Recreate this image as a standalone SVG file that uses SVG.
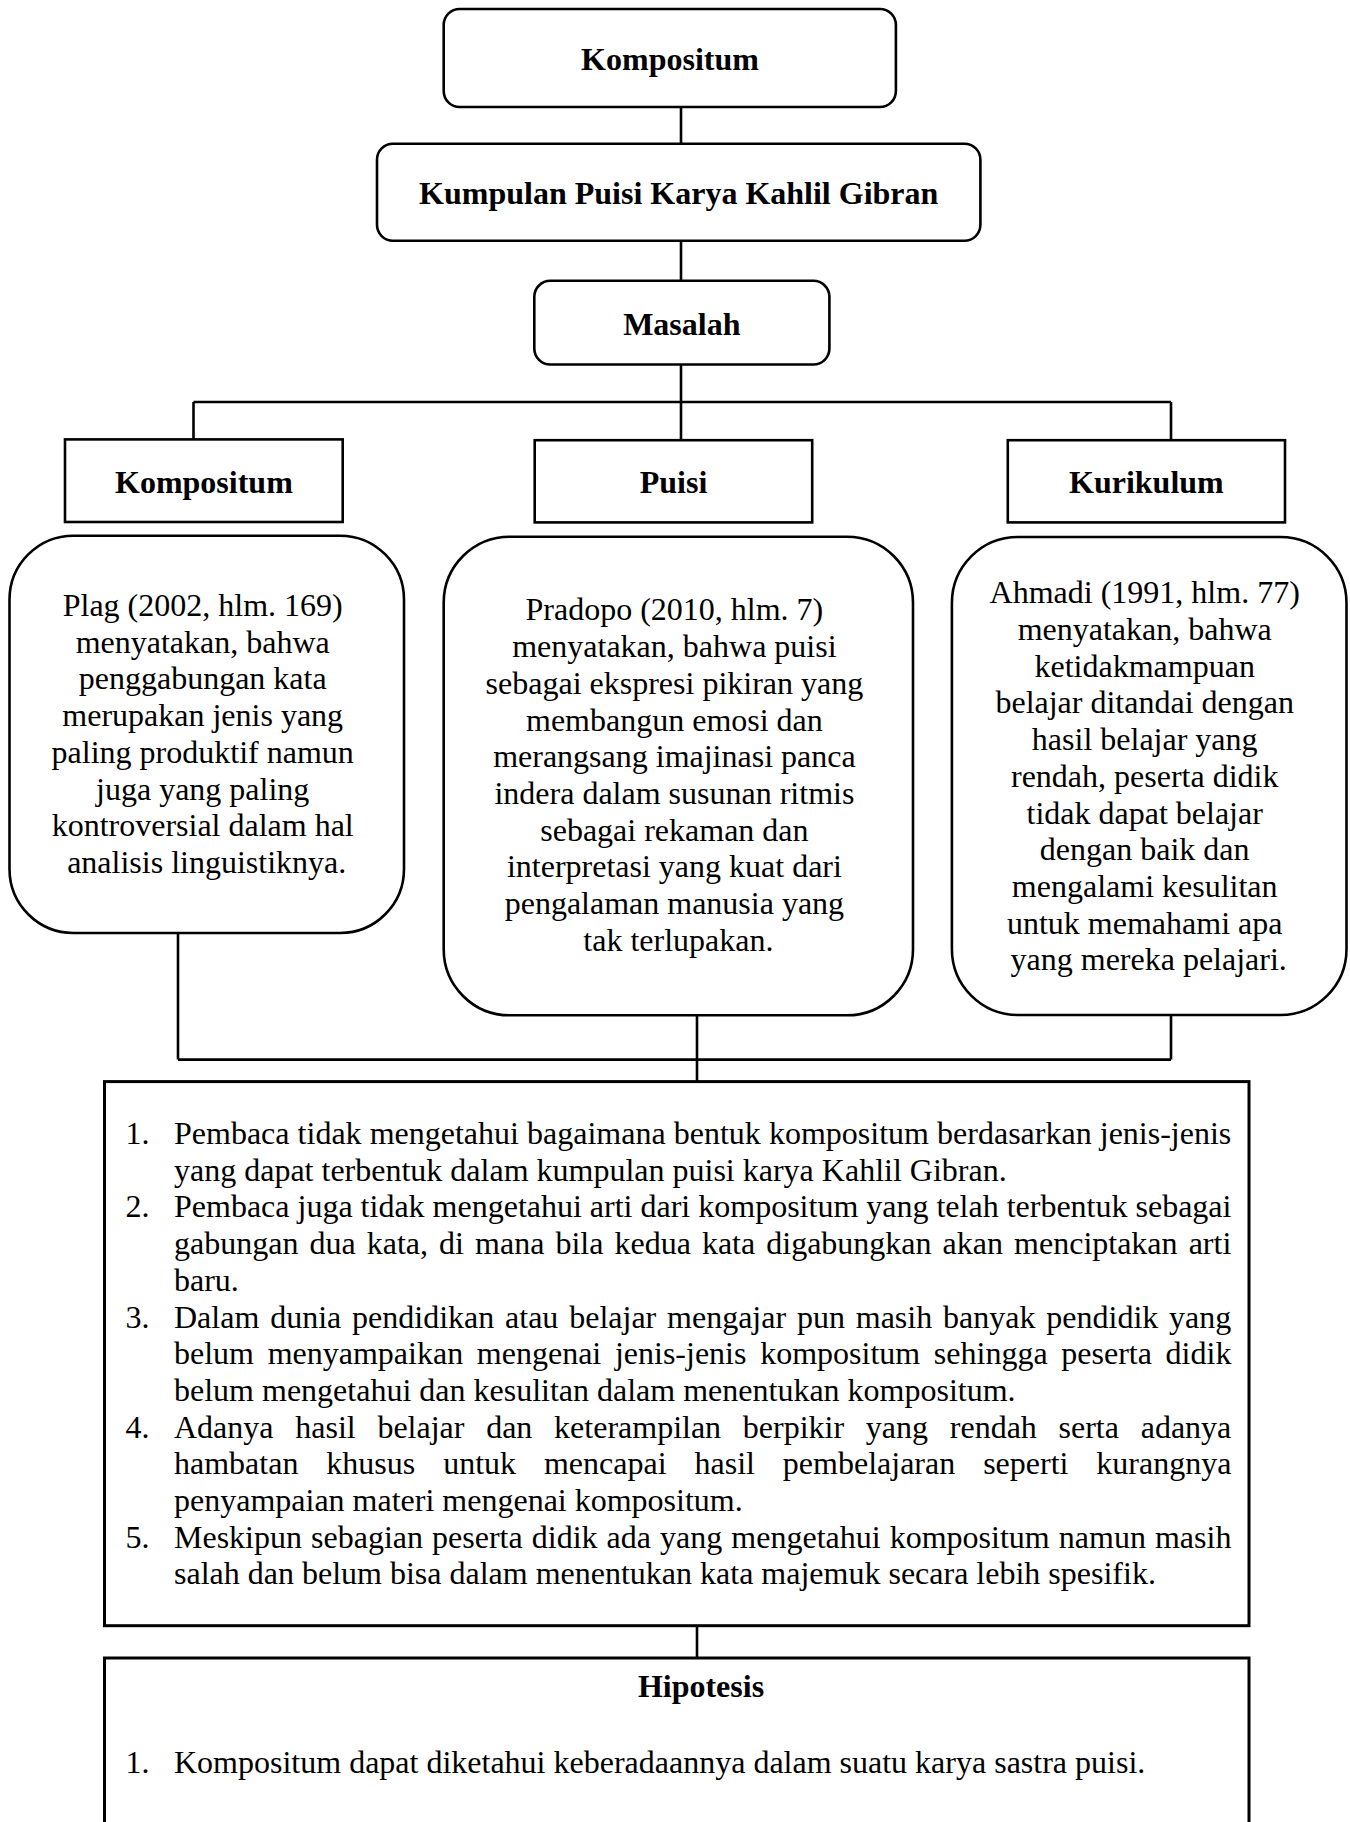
<svg xmlns="http://www.w3.org/2000/svg" width="1350" height="1822" viewBox="0 0 1350 1822">
<style>
.box{fill:#fff;stroke:#000;stroke-width:2.6}
.big{fill:#fff;stroke:#000;stroke-width:3}
.ln{fill:none;stroke:#000;stroke-width:2.6}
text{font-family:"Liberation Serif","Times New Roman",serif;font-size:32px;fill:#000}
.b{font-weight:bold;text-anchor:middle}
.c{text-anchor:middle}
</style>
<rect width="1350" height="1822" fill="#fff"/>
<g id="connectors">
<path class="ln" d="M681 107V144M681 241V281M681 364.5V402M193.5 402H1171M193.5 402V439M681 402V440M1171 402V440"/>
<path class="ln" d="M178 933V1059.6M697 1015V1081.6M1171 1015V1059.6M178 1059.6H1171"/>
<path class="ln" d="M697 1625.7V1658"/>
</g>
<g id="n-kompositum-top">
<rect class="box" x="443.7" y="9" width="452.2" height="98" rx="16"/>
<text class="b" x="670" y="69.5">Kompositum</text>
</g>
<g id="n-kumpulan">
<rect class="box" x="377" y="143.7" width="603.4" height="97.1" rx="16"/>
<text class="b" x="678.7" y="204">Kumpulan Puisi Karya Kahlil Gibran</text>
</g>
<g id="n-masalah">
<rect class="box" x="534.3" y="280.8" width="295.1" height="83.7" rx="16"/>
<text class="b" x="681.8" y="334.5">Masalah</text>
</g>
<g id="n-kompositum">
<rect class="box" x="65" y="439.4" width="277.7" height="82.6"/>
<text class="b" x="203.9" y="492.7">Kompositum</text>
</g>
<g id="n-puisi">
<rect class="box" x="534.7" y="440.2" width="277.5" height="82.2"/>
<text class="b" x="673.5" y="493">Puisi</text>
</g>
<g id="n-kurikulum">
<rect class="box" x="1007.8" y="440.2" width="277.2" height="82.2"/>
<text class="b" x="1146.4" y="493">Kurikulum</text>
</g>
<g id="n-plag">
<rect class="box" x="9.5" y="535.7" width="394.5" height="397.3" rx="64"/>
<text class="c" x="206.7" y="616">
<tspan x="206.7" dy="0">Plag (2002, hlm. 169)</tspan>
<tspan x="206.7" dy="36.7">menyatakan, bahwa</tspan>
<tspan x="206.7" dy="36.7">penggabungan kata</tspan>
<tspan x="206.7" dy="36.7">merupakan jenis yang</tspan>
<tspan x="206.7" dy="36.7">paling produktif namun</tspan>
<tspan x="206.7" dy="36.7">juga yang paling</tspan>
<tspan x="206.7" dy="36.7">kontroversial dalam hal</tspan>
<tspan x="206.7" dy="36.7">analisis linguistiknya.</tspan>
</text>
</g>
<g id="n-pradopo">
<rect class="box" x="443.7" y="536.7" width="469.3" height="478.6" rx="66"/>
<text class="c" x="678.4" y="620.4">
<tspan x="678.4" dy="0">Pradopo (2010, hlm. 7)</tspan>
<tspan x="678.4" dy="36.7">menyatakan, bahwa puisi</tspan>
<tspan x="678.4" dy="36.7">sebagai ekspresi pikiran yang</tspan>
<tspan x="678.4" dy="36.7">membangun emosi dan</tspan>
<tspan x="678.4" dy="36.7">merangsang imajinasi panca</tspan>
<tspan x="678.4" dy="36.7">indera dalam susunan ritmis</tspan>
<tspan x="678.4" dy="36.7">sebagai rekaman dan</tspan>
<tspan x="678.4" dy="36.7">interpretasi yang kuat dari</tspan>
<tspan x="678.4" dy="36.7">pengalaman manusia yang</tspan>
<tspan x="678.4" dy="36.7">tak terlupakan.</tspan>
</text>
</g>
<g id="n-ahmadi">
<rect class="box" x="951.9" y="537" width="394.6" height="478" rx="66"/>
<text class="c" x="1148.7" y="603.3">
<tspan x="1148.7" dy="0">Ahmadi (1991, hlm. 77)</tspan>
<tspan x="1148.7" dy="36.7">menyatakan, bahwa</tspan>
<tspan x="1148.7" dy="36.7">ketidakmampuan</tspan>
<tspan x="1148.7" dy="36.7">belajar ditandai dengan</tspan>
<tspan x="1148.7" dy="36.7">hasil belajar yang</tspan>
<tspan x="1148.7" dy="36.7">rendah, peserta didik</tspan>
<tspan x="1148.7" dy="36.7">tidak dapat belajar</tspan>
<tspan x="1148.7" dy="36.7">dengan baik dan</tspan>
<tspan x="1148.7" dy="36.7">mengalami kesulitan</tspan>
<tspan x="1148.7" dy="36.7">untuk memahami apa</tspan>
<tspan x="1148.7" dy="36.7">yang mereka pelajari.</tspan>
</text>
</g>
<g id="n-masalah-list">
<rect class="big" x="104.5" y="1081.6" width="1144.5" height="544.1"/>
<text x="125.5" y="1144">1.</text>
<text x="125.5" y="1217.4">2.</text>
<text x="125.5" y="1327.5">3.</text>
<text x="125.5" y="1437.6">4.</text>
<text x="125.5" y="1547.7">5.</text>
<text x="174" y="1144" word-spacing="0.1">Pembaca tidak mengetahui bagaimana bentuk kompositum berdasarkan jenis-jenis</text>
<text x="174" y="1180.7">yang dapat terbentuk dalam kumpulan puisi karya Kahlil Gibran.</text>
<text x="174" y="1217.4">Pembaca juga tidak mengetahui arti dari kompositum yang telah terbentuk sebagai</text>
<text x="174" y="1254.1" word-spacing="3.06">gabungan dua kata, di mana bila kedua kata digabungkan akan menciptakan arti</text>
<text x="174" y="1290.8">baru.</text>
<text x="174" y="1327.5" word-spacing="2.83">Dalam dunia pendidikan atau belajar mengajar pun masih banyak pendidik yang</text>
<text x="174" y="1364.2" word-spacing="5.69">belum menyampaikan mengenai jenis-jenis kompositum sehingga peserta didik</text>
<text x="174" y="1400.9">belum mengetahui dan kesulitan dalam menentukan kompositum.</text>
<text x="174" y="1437.6" word-spacing="13.72">Adanya hasil belajar dan keterampilan berpikir yang rendah serta adanya</text>
<text x="174" y="1474.3" word-spacing="19.93">hambatan khusus untuk mencapai hasil pembelajaran seperti kurangnya</text>
<text x="174" y="1511">penyampaian materi mengenai kompositum.</text>
<text x="174" y="1547.7" word-spacing="1.07">Meskipun sebagian peserta didik ada yang mengetahui kompositum namun masih</text>
<text x="174" y="1584.4">salah dan belum bisa dalam menentukan kata majemuk secara lebih spesifik.</text>
</g>
<g id="n-hipotesis">
<rect class="big" x="104.5" y="1658" width="1144.5" height="200"/>
<text class="b" x="701" y="1697">Hipotesis</text>
<text x="125.5" y="1773">1.</text>
<text x="174" y="1773">Kompositum dapat diketahui keberadaannya dalam suatu karya sastra puisi.</text>
</g>
</svg>
